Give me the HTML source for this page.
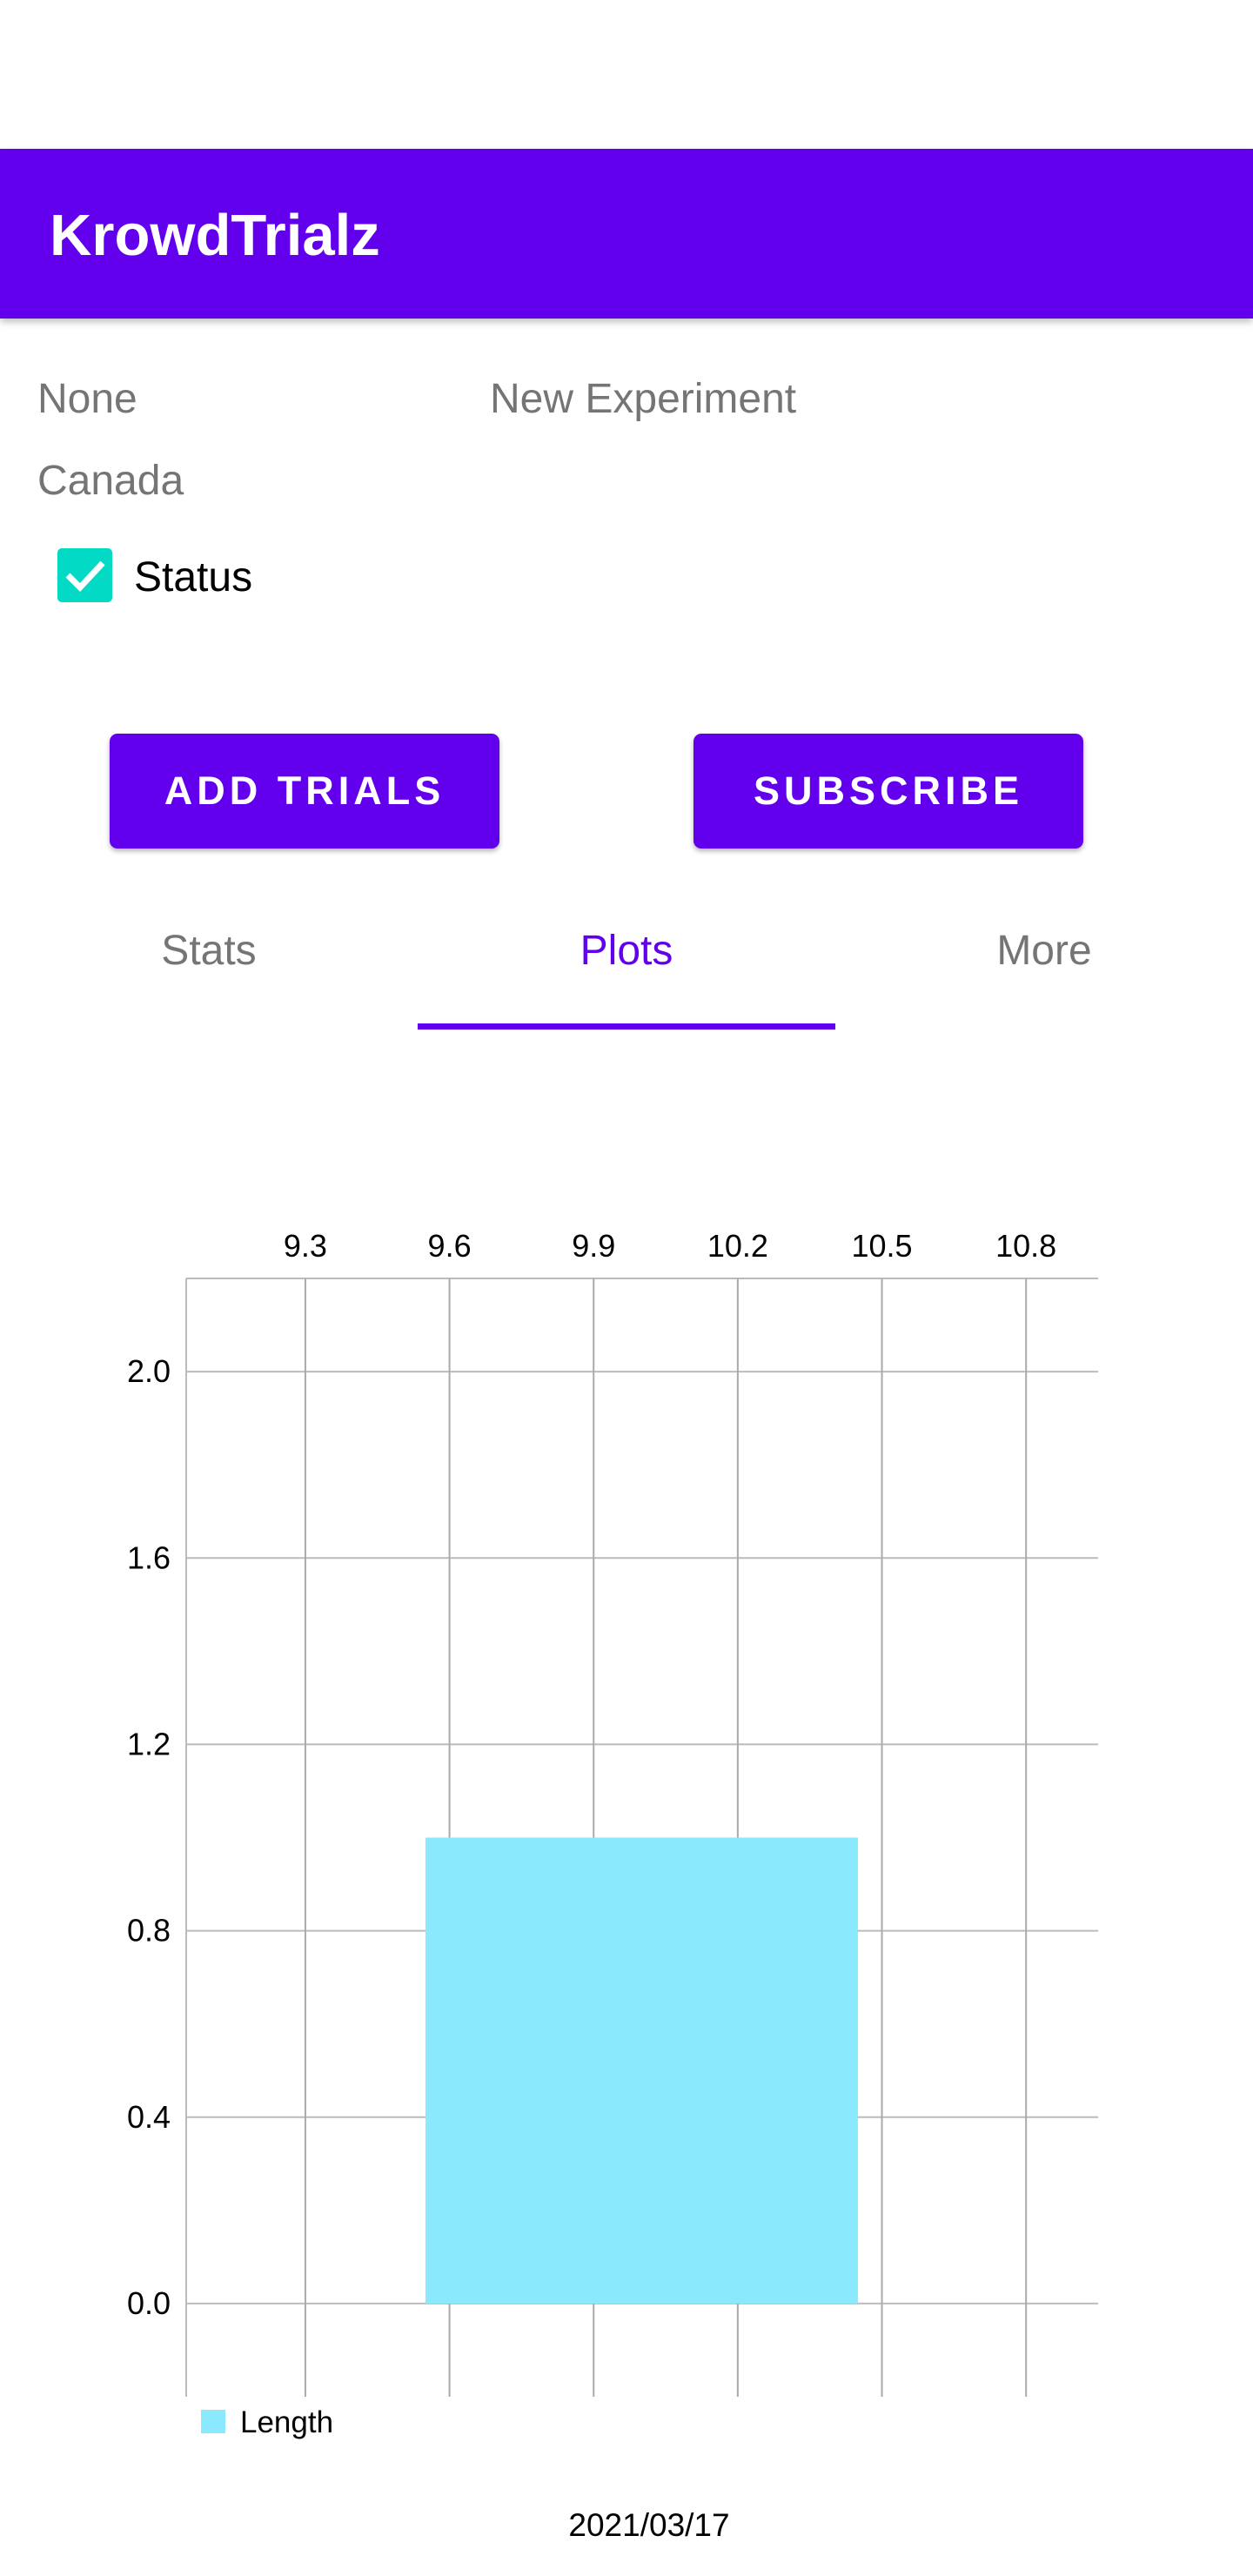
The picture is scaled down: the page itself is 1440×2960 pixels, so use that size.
<!DOCTYPE html>
<html><head><meta charset="utf-8"><style>
body{margin:0;width:1440px;height:2960px;background:#fff;position:relative;overflow:hidden;font-family:"Liberation Sans",sans-serif}
.a{position:absolute}
.hdr{left:0;top:171px;width:1440px;height:195px;background:#6200EE;box-shadow:0 4px 8px rgba(0,0,0,.25)}
.t{color:#757575;font-size:48px;white-space:nowrap}
.btn{background:#6200EE;color:#fff;border-radius:9px;box-shadow:0 3px 6px rgba(0,0,0,.3);font-size:45px;font-weight:bold;letter-spacing:5px;display:flex;align-items:center;justify-content:center;height:132px;top:843px;width:448px}
.tab{top:1065px;width:480px;text-align:center;font-size:48px;color:#757575}
</style></head><body>
<div class="a hdr">
<div class="a" style="left:57px;top:50px;color:#fff;font-size:67px;font-weight:bold;line-height:100px">KrowdTrialz</div>
</div>
<div class="a t" style="left:43px;top:431px">None</div>
<div class="a t" style="left:563px;top:431px">New Experiment</div>
<div class="a t" style="left:43px;top:525px">Canada</div>
<div class="a" style="left:66px;top:630px;width:63px;height:62px;background:#03DAC5;border-radius:5px">
<svg width="63" height="62"><path d="M12 31 L26 45 L52 17" stroke="#fff" stroke-width="7" fill="none"/></svg></div>
<div class="a" style="left:154px;top:636px;font-size:48px;color:#000">Status</div>
<div class="a btn" style="left:126px">ADD TRIALS</div>
<div class="a btn" style="left:797px">SUBSCRIBE</div>
<div class="a tab" style="left:0">Stats</div>
<div class="a tab" style="left:480px;color:#6200EE">Plots</div>
<div class="a tab" style="left:960px">More</div>
<div class="a" style="left:480px;top:1176px;width:480px;height:7px;background:#6200EE"></div>
<svg class="a" id="chart" style="left:0;top:0" width="1440" height="2960"></svg>
<script>
const categories=[10.0];
const values=[1.0];
const barWidthUnits=0.9;
const xTicks=[9.3,9.6,9.9,10.2,10.5,10.8];
const yTicks=[0.0,0.4,0.8,1.2,1.6,2.0];
const xMin=9.052,xMax=10.95,yMin=-0.2,yMax=2.2;
const L=214,R=1262,T=1469,B=2754;
const X=v=>L+(v-xMin)/(xMax-xMin)*(R-L);
const Y=v=>B-(v-yMin)/(yMax-yMin)*(B-T);
const svg=document.getElementById('chart');const NS='http://www.w3.org/2000/svg';
function mk(tag,attrs,txt){const e=document.createElementNS(NS,tag);for(const k in attrs)e.setAttribute(k,attrs[k]);if(txt!=null)e.textContent=txt;svg.appendChild(e);return e;}
let e;
e=mk('line',{x1:L,x2:R,y1:T,y2:T,stroke:'#bbb','stroke-width':2});


e=mk('line',{x1:L,x2:L,y1:T,y2:B,stroke:'#bbb','stroke-width':2});


yTicks.forEach(v=>{
 e=mk('line',{x1:L,x2:R,y1:Y(v),y2:Y(v),stroke:'#bbb','stroke-width':2});
 
 
 e=mk('text',{x:196,y:Y(v)+12,'text-anchor':'end','font-size':36,fill:'#000'},v.toFixed(1));
 
 
});
xTicks.forEach(v=>{
 e=mk('line',{x1:X(v),x2:X(v),y1:T,y2:B,stroke:'#aaa','stroke-width':2});
 
 
 e=mk('text',{x:X(v),y:1444,'text-anchor':'middle','font-size':36,fill:'#000'},v.toFixed(1));
 
 
});
categories.forEach((c,i)=>{
 e=mk('rect',{x:X(c-barWidthUnits/2),y:Y(values[i]),width:X(c+barWidthUnits/2)-X(c-barWidthUnits/2),height:Y(0)-Y(values[i]),fill:'#8BE9FD'});
 
 
});
e=mk('rect',{x:231,y:2769,width:28,height:27,fill:'#8BE9FD'});


e=mk('text',{x:276,y:2795,'font-size':35,fill:'#000'},'Length');


e=mk('text',{x:746,y:2914,'text-anchor':'middle','font-size':37,fill:'#000'},'2021/03/17');


</script>
</body></html>
